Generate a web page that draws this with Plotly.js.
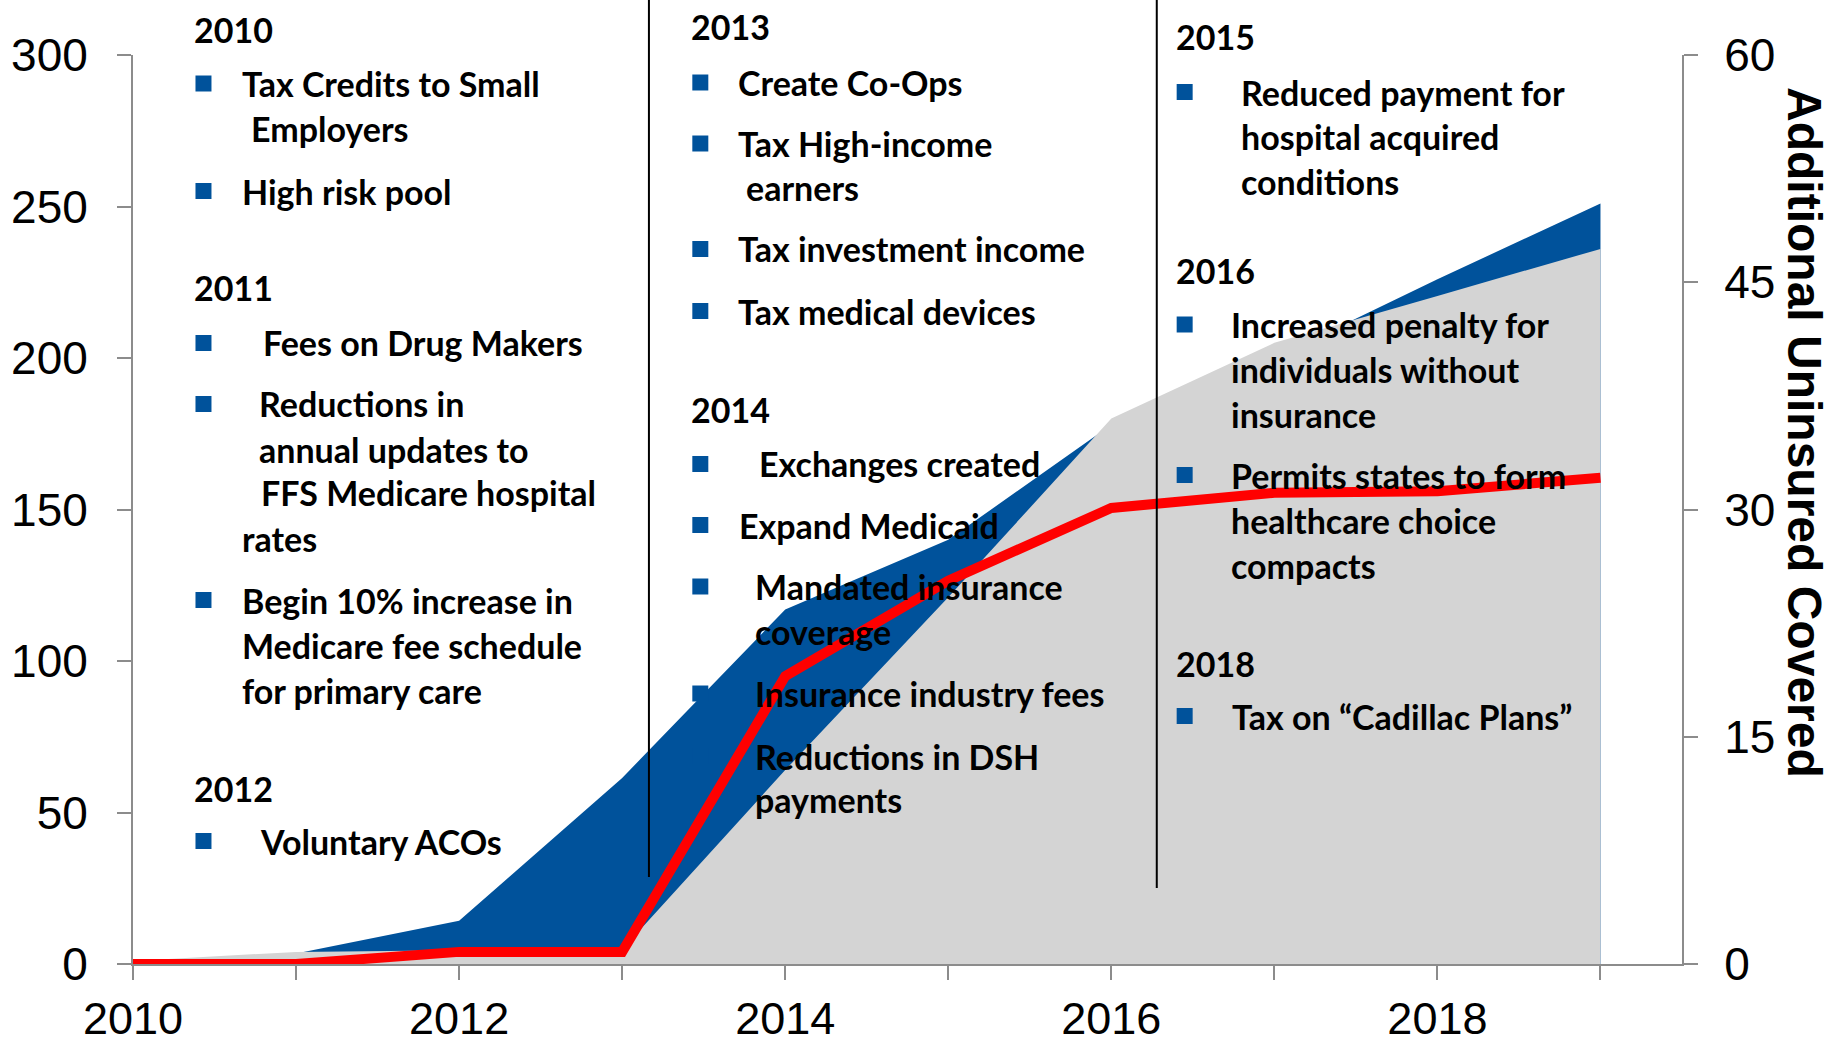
<!DOCTYPE html>
<html>
<head>
<meta charset="utf-8">
<script src="https://cdn.plot.ly/plotly-3.0.1.min.js"></script>
<style>html,body{margin:0;padding:0;background:#fff;}#chart{width:1839px;height:1044px;}</style>
</head>
<body>
<div id="chart"></div>
<script>
// ---------------- DATA ----------------
const years = [2010, 2011, 2012, 2013, 2014, 2015, 2016, 2017, 2018, 2019];
const xTickLabels = ['2010', '', '2012', '', '2014', '', '2016', '', '2018', ''];
// blue area (left axis, 0-300)
const blueArea = [0, 3.5, 14.3, 61.4, 117, 140, 178, 200, 226, 251];
// gray area (left axis, 0-300)
const grayArea = [1, 4, 4.5, 4.8, 64, 121, 180, 205, 220.5, 236];
// red line: Additional Uninsured Covered (right axis, 0-60)
const uninsuredCovered = [0, 0, 0.8, 0.8, 19, 25.3, 30.1, 31.1, 31.2, 32.1];
const rightAxisTitle = 'Additional Uninsured Covered';

// timeline notes: [kind, text]
const notes = [
  ['year', '2010'],
  ['bullet', 'Tax Credits to Small'],
  ['cont', 'Employers'],
  ['bullet', 'High risk pool'],
  ['year', '2011'],
  ['bullet', 'Fees on Drug Makers'],
  ['bullet', 'Reductions in'],
  ['cont', 'annual updates to'],
  ['cont', 'FFS Medicare hospital'],
  ['cont', 'rates'],
  ['bullet', 'Begin 10% increase in'],
  ['cont', 'Medicare fee schedule'],
  ['cont', 'for primary care'],
  ['year', '2012'],
  ['bullet', 'Voluntary ACOs'],
  ['year', '2013'],
  ['bullet', 'Create Co-Ops'],
  ['bullet', 'Tax High-income'],
  ['cont', 'earners'],
  ['bullet', 'Tax investment income'],
  ['bullet', 'Tax medical devices'],
  ['year', '2014'],
  ['bullet', 'Exchanges created'],
  ['bullet', 'Expand Medicaid'],
  ['bullet', 'Mandated insurance'],
  ['cont', 'coverage'],
  ['bullet', 'Insurance industry fees'],
  ['bullet', 'Reductions in DSH'],
  ['cont', 'payments'],
  ['year', '2015'],
  ['bullet', 'Reduced payment for'],
  ['cont', 'hospital acquired'],
  ['cont', 'conditions'],
  ['year', '2016'],
  ['bullet', 'Increased penalty for'],
  ['cont', 'individuals without'],
  ['cont', 'insurance'],
  ['bullet', 'Permits states to form'],
  ['cont', 'healthcare choice'],
  ['cont', 'compacts'],
  ['year', '2018'],
  ['bullet', 'Tax on \u201CCadillac Plans\u201D']
];

// ---------------- LAYOUT (pixel placement of notes) ----------------
const PL = 132.5, PR = 1682, PT = 55, PB = 964;
function px(x) { return (x - PL) / (PR - PL); }
function py(y) { return (PB - y) / (PB - PT); }

// [textLeftX, centerY, bulletColumnX] per note line
const C1 = 203, C2 = 700, C3 = 1184.5;
const notePos = [
  [192, 30, C1], [240, 83.5, C1], [248.5, 128, C1], [240, 191, C1],
  [192, 287, C1], [261, 343, C1], [256.5, 404, C1], [256.5, 449, C1],
  [258.5, 493, C1], [240, 538, C1], [240, 600, C1], [240, 645, C1],
  [240, 690, C1], [192, 788, C1], [257.5, 841, C1],
  [688.5, 27, C2], [736, 82.5, C2], [736, 143.5, C2], [744, 188, C2],
  [736, 249, C2], [736, 311, C2], [688.5, 409, C2], [757, 464, C2],
  [737, 525, C2], [753, 586.5, C2], [753, 631, C2], [753, 693.5, C2],
  [753, 756, C2], [753, 799, C2],
  [1174, 37, C3], [1238.5, 92, C3], [1238.5, 136.5, C3], [1238.5, 181, C3],
  [1174, 270, C3], [1229, 324.5, C3], [1229, 369.5, C3], [1229, 414.5, C3],
  [1229, 475, C3], [1229, 520, C3], [1229, 565, C3],
  [1174, 663, C3], [1230, 716, C3]
];
const dividers = [[648.6, 877], [1156.6, 888]];

const BLUE = '#00529B', GRAY = '#D4D4D4', RED = '#FF0000', AXIS = '#8C8C8C';
const noteFont = {family: 'Lato, "Open Sans", sans-serif', size: 34, color: '#000', weight: 700};
const tickFont = {family: '"Liberation Sans", Arial, sans-serif', size: 46, color: '#000'};
const xTickFont = {family: '"Liberation Sans", Arial, sans-serif', size: 45, color: '#000'};

const annotations = notes.map((n, i) => ({
  xref: 'paper', yref: 'paper', x: px(notePos[i][0]), y: py(notePos[i][1]),
  xanchor: 'left', yanchor: 'middle', showarrow: false, text: n[1], font: noteFont
}));
annotations.push({
  xref: 'paper', yref: 'paper', x: px(1805), y: py(433), textangle: 90,
  xanchor: 'center', yanchor: 'middle', showarrow: false, text: rightAxisTitle,
  font: {family: '"Liberation Sans", Arial, sans-serif', size: 48, color: '#000', weight: 700}
});

const shapes = [];
notes.forEach((n, i) => {
  if (n[0] === 'bullet') {
    const cx = notePos[i][2], cy = notePos[i][1];
    shapes.push({type: 'rect', xref: 'paper', yref: 'paper', layer: 'above',
      x0: px(cx - 8), x1: px(cx + 8), y0: py(cy + 8), y1: py(cy - 8),
      fillcolor: BLUE, line: {width: 0}});
  }
});
dividers.forEach(d => {
  shapes.push({type: 'line', xref: 'paper', yref: 'paper', layer: 'above',
    x0: px(d[0]), x1: px(d[0]), y0: py(d[1]), y1: py(0), line: {color: '#000', width: 2}});
});
// x-axis line continues under the right-axis ticks
shapes.push({type: 'line', xref: 'paper', yref: 'paper', layer: 'above',
  x0: 1, x1: px(PR + 14), y0: 0, y1: 0, line: {color: AXIS, width: 2}});

const traces = [
  {x: years, y: blueArea, type: 'scatter', mode: 'lines', fill: 'tozeroy',
   fillcolor: BLUE, line: {width: 0, color: BLUE}, hoverinfo: 'skip', showlegend: false},
  {x: years, y: grayArea, type: 'scatter', mode: 'lines', fill: 'tozeroy',
   fillcolor: GRAY, line: {width: 0, color: GRAY}, hoverinfo: 'skip', showlegend: false},
  {x: years, y: uninsuredCovered, yaxis: 'y2', type: 'scatter', mode: 'lines',
   line: {width: 10, color: RED}, hoverinfo: 'skip', showlegend: false}
];

const layout = {
  width: 1839, height: 1044,
  margin: {l: PL, r: 1839 - PR, t: PT, b: 1044 - PB, pad: 0},
  paper_bgcolor: '#fff', plot_bgcolor: 'rgba(0,0,0,0)',
  showlegend: false,
  xaxis: {
    range: [2010, 2019.5], tickvals: years, ticktext: xTickLabels,
    showgrid: false, zeroline: false, showline: true, linecolor: AXIS, linewidth: 2,
    ticks: 'outside', ticklen: 14, tickwidth: 2, tickcolor: AXIS,
    tickfont: xTickFont, ticklabelstandoff: 0, automargin: false, fixedrange: true
  },
  yaxis: {
    range: [0, 300], dtick: 50, tick0: 0,
    showgrid: false, zeroline: false, showline: true, linecolor: AXIS, linewidth: 2,
    ticks: 'outside', ticklen: 14, tickwidth: 2, tickcolor: AXIS,
    tickfont: tickFont, ticklabelstandoff: 20, automargin: false, fixedrange: true
  },
  yaxis2: {
    overlaying: 'y', side: 'right', anchor: 'x', range: [0, 60], dtick: 15, tick0: 0,
    showgrid: false, zeroline: false, showline: true, linecolor: AXIS, linewidth: 2,
    ticks: 'outside', ticklen: 14, tickwidth: 2, tickcolor: AXIS,
    tickfont: tickFont, ticklabelstandoff: 17, automargin: false, fixedrange: true
  },
  annotations: annotations,
  shapes: shapes
};

Plotly.newPlot('chart', traces, layout, {displayModeBar: false, staticPlot: true});
</script>
</body>
</html>
